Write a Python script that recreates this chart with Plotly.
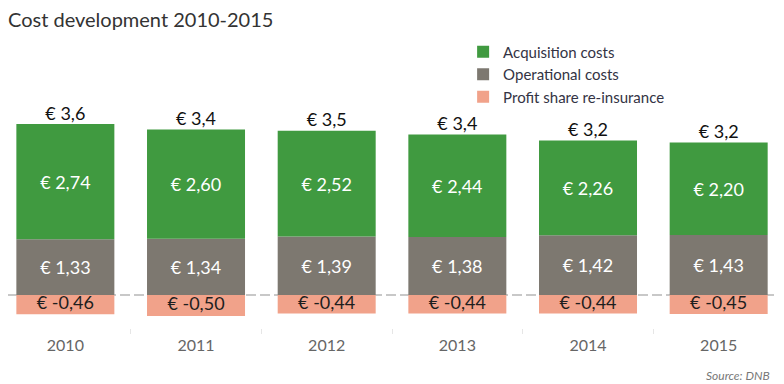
import plotly.graph_objects as go

years = ["2010", "2011", "2012", "2013", "2014", "2015"]
acquisition = [2.74, 2.60, 2.52, 2.44, 2.26, 2.20]
operational = [1.33, 1.34, 1.39, 1.38, 1.42, 1.43]
profit_share = [-0.46, -0.50, -0.44, -0.44, -0.44, -0.45]
totals = [3.6, 3.4, 3.5, 3.4, 3.2, 3.2]

def eur(v, d=2):
    return ("€ " + f"{v:.{d}f}").replace(".", ",")

FONT = "Lato"
LBL = 18
fig = go.Figure()
fig.add_trace(go.Bar(x=years, y=operational, name="Operational costs",
                     marker=dict(color="#7d7870", line=dict(width=0)),
                     text=[eur(v) for v in operational], textposition="inside",
                     insidetextanchor="middle",
                     textfont=dict(color="white", size=LBL, family=FONT),
                     legendrank=2, hoverinfo="skip"))
fig.add_trace(go.Bar(x=years, y=acquisition, name="Acquisition costs",
                     marker=dict(color="#409a40", line=dict(width=0)),
                     text=[eur(v) for v in acquisition], textposition="inside",
                     insidetextanchor="middle",
                     textfont=dict(color="white", size=LBL, family=FONT),
                     legendrank=1, hoverinfo="skip"))
fig.add_trace(go.Bar(x=years, y=profit_share, name="Profit share re-insurance",
                     marker=dict(color="#f1a28a", line=dict(width=0)),
                     textposition="none",
                     legendrank=3, hoverinfo="skip"))
fig.add_trace(go.Scatter(x=years, y=[v / 2 for v in profit_share], mode="text",
                         text=[eur(v) for v in profit_share], textposition="middle center",
                         textfont=dict(color="#1e1e1e", size=LBL, family=FONT),
                         cliponaxis=False, showlegend=False, hoverinfo="skip"))
tops = [a + o for a, o in zip(acquisition, operational)]
fig.add_trace(go.Scatter(x=years, y=tops, mode="text",
                         text=[eur(v, 1) for v in totals], textposition="top center",
                         textfont=dict(color="#111111", size=LBL, family=FONT),
                         cliponaxis=False, showlegend=False, hoverinfo="skip"))

fig.add_shape(type="line", xref="paper", yref="y", x0=0, x1=1, y0=0, y1=0,
              layer="below", line=dict(color="#c8c8c8", width=2, dash="10px,4px"))

fig.add_annotation(text="<i>Source: DNB</i>", xref="paper", yref="paper",
                   x=0.985, y=-0.2156, xanchor="right", yanchor="middle", showarrow=False,
                   font=dict(size=12, color="#777777", family=FONT))

fig.update_layout(
    width=776, height=376,
    margin=dict(l=0, r=0, t=102, b=56),
    barmode="relative", bargap=0.25,
    paper_bgcolor="white", plot_bgcolor="white",
    title=dict(text="Cost development 2010-2015", x=0.0, xanchor="left",
               y=0.968, yanchor="middle", pad=dict(l=0, t=0, b=0, r=0),
               font=dict(size=20, color="#333333", family=FONT)),
    legend=dict(x=0.5865, y=1.342, xanchor="left", yanchor="top",
                font=dict(size=15, color="#333344", family=FONT),
                bgcolor="rgba(0,0,0,0)", tracegroupgap=0, itemwidth=30),
    font=dict(family=FONT),
    showlegend=True,
)
fig.update_xaxes(showgrid=False, showline=False, zeroline=False,
                 ticks="outside", tickson="boundaries", ticklen=5, tickcolor="#e6e6e6",
                 ticklabelstandoff=6,
                 tickfont=dict(size=16, color="#666666", family=FONT),
                 range=[-0.439, 5.5])
fig.update_yaxes(visible=False, range=[-0.786, 4.405], showgrid=False, zeroline=False)

fig.write_html("out.html")
